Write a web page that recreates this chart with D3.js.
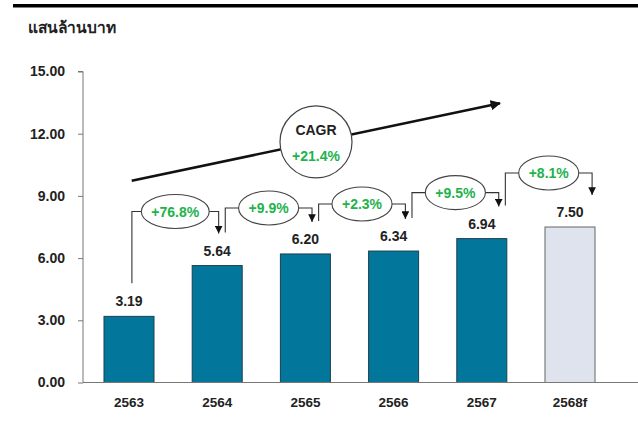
<!DOCTYPE html>
<html>
<head>
<meta charset="utf-8">
<script src="https://cdn.jsdelivr.net/npm/d3@7"></script>
<style>
  html, body { margin: 0; padding: 0; background: #fff; }
  svg { display: block; }
  text { font-family: "Liberation Sans", Arial, sans-serif; }
</style>
</head>
<body>
<svg id="chart" width="638" height="426"></svg>
<script>
// ---- data ----
const categories = ["2563", "2564", "2565", "2566", "2567", "2568f"];
const values = [3.19, 5.64, 6.20, 6.34, 6.94, 7.50];
const forecast = [false, false, false, false, false, true];
const growthLabels = ["+76.8%", "+9.9%", "+2.3%", "+9.5%", "+8.1%"];
const cagrLabel = "+21.4%";
const yTicks = [0, 3, 6, 9, 12, 15];
const unitLabel = "แสนล้านบาท";

// ---- layout ----
const W = 638, H = 426;
const svg = d3.select("#chart");
const green = "#22b24c";
const barColor = "#03779b";

const y = d3.scaleLinear().domain([0, 15]).range([382.5, 71.5]);
const x = d3.scaleBand().domain(categories).range([84.9, 614.1])
  .paddingInner(0.433).paddingOuter(0.2165);
const xa = d3.scalePoint().domain(categories).range([128.6, 595.4]);

// top rule
svg.append("rect").attr("x", 13).attr("y", 4).attr("width", W - 13).attr("height", 3.5).attr("fill", "#000");

// unit title
svg.append("text").attr("x", 28).attr("y", 33)
  .attr("font-size", 15.5).attr("font-weight", "bold").attr("fill", "#222")
  .style("font-family", "'Noto Sans', 'Liberation Sans', sans-serif")
  .text(unitLabel);

// y axis
const yAxis = svg.append("g").attr("transform", "translate(83,0)")
  .call(d3.axisLeft(y).tickValues(yTicks).tickFormat(d3.format(".2f")).tickSize(5).tickPadding(13));
yAxis.select(".domain").attr("stroke", "#777").attr("d", `M-5,${y(15)}H0V${y(0)}`);
yAxis.selectAll(".tick line").attr("stroke", "#777");
yAxis.selectAll(".tick text").attr("font-size", 14).attr("font-weight", "bold").attr("fill", "#222")
  .style("font-family", "'Liberation Sans', Arial, sans-serif");

// bars
svg.append("g").selectAll("rect").data(categories).join("rect")
  .attr("x", d => x(d))
  .attr("y", (d, i) => y(values[i]))
  .attr("width", x.bandwidth())
  .attr("height", (d, i) => y(0) - y(values[i]))
  .attr("fill", (d, i) => forecast[i] ? "#dee3ed" : barColor)
  .attr("stroke", (d, i) => forecast[i] ? "#666" : "#1d3f50")
  .attr("stroke-width", 1);

// x axis line
svg.append("line").attr("x1", 83).attr("x2", W).attr("y1", y(0)).attr("y2", y(0))
  .attr("stroke", "#777").attr("stroke-width", 1);

// x labels
const xAxis = svg.append("g").attr("transform", `translate(0,${y(0)})`)
  .call(d3.axisBottom(x).tickSize(0).tickPadding(15));
xAxis.select(".domain").remove();
xAxis.selectAll(".tick text").attr("font-size", 13.5).attr("font-weight", "bold").attr("fill", "#222")
  .style("font-family", "'Liberation Sans', Arial, sans-serif");

// value labels
svg.append("g").selectAll("text").data(categories).join("text")
  .attr("x", d => x(d) + x.bandwidth() / 2)
  .attr("y", (d, i) => y(values[i]) - 10)
  .attr("text-anchor", "middle")
  .attr("font-size", 14).attr("font-weight", "bold").attr("fill", "#222")
  .text((d, i) => values[i].toFixed(2));

// growth brackets
const levelOffsets = [54, 46, 47, 46, 54];
const defs = svg.append("defs");
defs.append("marker")
  .attr("id", "tri").attr("viewBox", "0 0 10 10").attr("refX", 10).attr("refY", 5)
  .attr("markerWidth", 7).attr("markerHeight", 7).attr("orient", "auto")
  .append("path").attr("d", "M0,0L10,5L0,10Z").attr("fill", "#111");

const gGrowth = svg.append("g");
growthLabels.forEach((lab, i) => {
  const g = gGrowth.append("g");
  const c0 = categories[i], c1 = categories[i + 1];
  const xl = xa(c0) + 3.3;
  const xr = xa(c1) - 3.3;
  const level = y(Math.max(values[i], values[i + 1])) - levelOffsets[i];
  const yStart = y(values[i]) - 33;
  const yEnd = y(values[i + 1]) - 32;
  g.append("path")
    .attr("d", `M${xl},${yStart}V${level}H${xr}V${yEnd}`)
    .attr("fill", "none").attr("stroke", "#333").attr("stroke-width", 1.1)
    .attr("marker-end", "url(#tri)");
  const cx = (xl + xr) / 2;
  const ell = g.append("ellipse")
    .attr("cx", cx).attr("cy", level).attr("ry", 17)
    .attr("fill", "#fff").attr("stroke", "#444").attr("stroke-width", 1.1);
  const t = g.append("text").attr("x", cx).attr("y", level + 5)
    .attr("text-anchor", "middle").attr("font-size", 14).attr("font-weight", "bold")
    .attr("fill", green).text(lab);
  const w = t.node().getComputedTextLength();
  ell.attr("rx", w / 2 + 10);
});

// CAGR arrow
defs.append("marker")
  .attr("id", "tri2").attr("viewBox", "0 0 10 10").attr("refX", 9).attr("refY", 5)
  .attr("markerWidth", 4).attr("markerHeight", 4).attr("orient", "auto")
  .append("path").attr("d", "M0,0L10,5L0,10Z").attr("fill", "#111");
const ax0 = 131.7, ay0 = 180.7, ax1 = 500, ay1 = 103.3;
svg.append("line").attr("x1", ax0).attr("y1", ay0).attr("x2", ax1).attr("y2", ay1)
  .attr("stroke", "#111").attr("stroke-width", 2.6).attr("marker-end", "url(#tri2)");
const ccx = 316, ccy = ay0 + (ccx - ax0) * (ay1 - ay0) / (ax1 - ax0);
svg.append("circle").attr("cx", ccx).attr("cy", ccy).attr("r", 36)
  .attr("fill", "#fff").attr("stroke", "#444").attr("stroke-width", 1.2);
svg.append("text").attr("x", ccx).attr("y", ccy - 7).attr("text-anchor", "middle")
  .attr("font-size", 14).attr("font-weight", "bold").attr("fill", "#222").text("CAGR");
svg.append("text").attr("x", ccx).attr("y", ccy + 19).attr("text-anchor", "middle")
  .attr("font-size", 14).attr("font-weight", "bold").attr("fill", green).text(cagrLabel);
</script>
</body>
</html>
